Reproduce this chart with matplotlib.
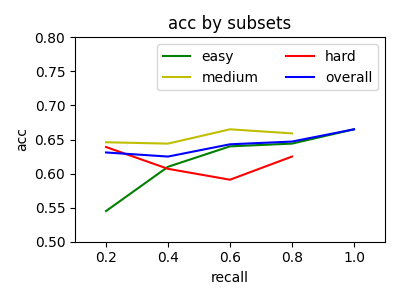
import matplotlib
matplotlib.use("Agg")
import matplotlib.pyplot as plt

recall = [0.2, 0.4, 0.6, 0.8, 1.0]
easy = [0.545, 0.610, 0.640, 0.644, 0.665]
medium = [0.646, 0.644, 0.665, 0.659]
hard = [0.639, 0.607, 0.591, 0.625]
overall = [0.631, 0.625, 0.643, 0.647, 0.665]

fig, ax = plt.subplots(figsize=(4, 3), dpi=100)
ax.plot(recall, easy, color='g', label='easy')
ax.plot(recall[:4], medium, color='y', label='medium')
ax.plot(recall[:4], hard, color='r', label='hard')
ax.plot(recall, overall, color='b', label='overall')
ax.set_xlim(0.1, 1.1)
ax.set_ylim(0.5, 0.8)
ax.set_xticks([0.2, 0.4, 0.6, 0.8, 1.0])
ax.set_title('acc by subsets')
ax.set_xlabel('recall')
ax.set_ylabel('acc')
ax.legend(ncol=2, loc='upper right')
fig.tight_layout()
fig.savefig('out.png')
